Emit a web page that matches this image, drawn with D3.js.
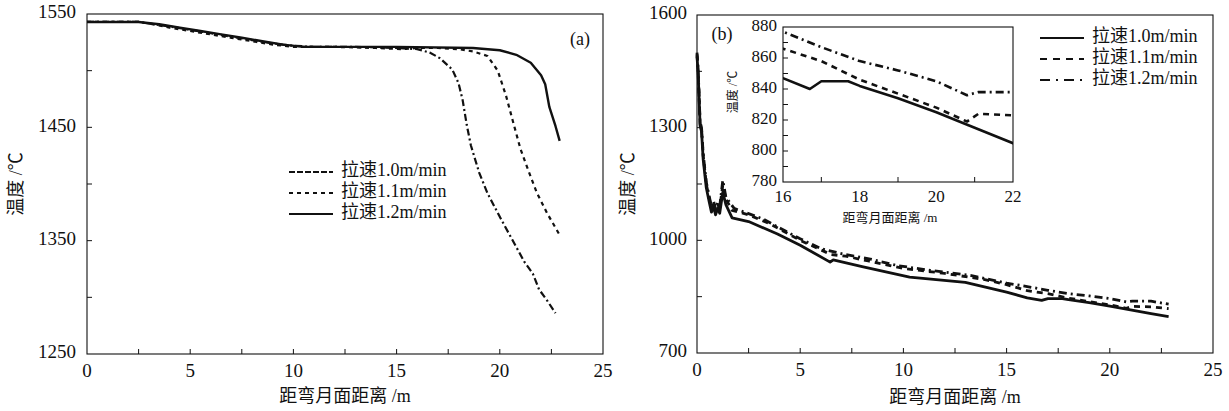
<!DOCTYPE html>
<html>
<head>
<meta charset="utf-8">
<script src="https://cdn.jsdelivr.net/npm/d3@7"></script>
<style>
  body { margin: 0; background: #fff; }
  text { fill: #111; }
</style>
</head>
<body>
<svg id="chart" width="1229" height="411"></svg>
<script>
// panel (a): distance [m], temperature [°C]
const seriesA10 = [[0,1543],[2.5,1543],[3.2,1541],[4,1539],[5,1536],[6,1533],[7,1530],[8,1527],[9,1524],[10,1522],[11,1521],[13,1521],[15,1520],[16,1519],[16.6,1516],[17.1,1511],[17.7,1501],[18.0,1489],[18.2,1474],[18.4,1452],[18.6,1434],[19.0,1410],[19.4,1392],[20.0,1371],[20.6,1351],[21.2,1331],[21.6,1321],[21.9,1307],[22.3,1297],[22.7,1286]];
const seriesA11 = [[0,1543],[2.5,1543],[3.2,1541],[4,1538],[5,1535],[6,1532],[7,1529],[8,1526],[9,1523],[10,1521],[12,1521],[14,1520],[15.3,1519],[16,1520],[17,1520],[18,1519],[18.7,1517],[19.4,1513],[19.9,1500],[20.3,1478],[20.7,1451],[21.0,1431],[21.4,1411],[21.8,1392],[22.3,1374],[22.9,1355]];
const seriesA12 = [[0,1543],[2.5,1543],[3.5,1541],[4.5,1538],[5.5,1535],[6.5,1532],[7.5,1529],[8.5,1526],[9.5,1523],[10.5,1521],[15,1521],[18.7,1520],[20,1518],[20.8,1514],[21.5,1507],[22.0,1496],[22.2,1488],[22.4,1468],[22.7,1451],[22.9,1438]];

// panel (b)
const seriesB10 = [[0,1490],[0.05,1450],[0.1,1380],[0.15,1305],[0.22,1290],[0.3,1215],[0.45,1140],[0.6,1100],[0.7,1075],[0.8,1090],[0.9,1068],[1.0,1085],[1.1,1072],[1.25,1128],[1.4,1095],[1.7,1060],[2.5,1050],[3.9,1017],[5.0,987],[6.45,942],[6.6,948],[8.0,930],[10.3,902],[13,888],[15,862],[16,847],[16.7,840],[17,845],[17.7,845],[18,842],[19,834],[20,825],[21,815],[22,805],[22.85,797]];
const seriesB11 = [[0,1495],[0.05,1455],[0.1,1385],[0.15,1310],[0.22,1295],[0.3,1225],[0.45,1150],[0.6,1110],[0.7,1085],[0.8,1100],[0.9,1078],[1.0,1095],[1.1,1085],[1.25,1148],[1.4,1110],[1.7,1080],[2.5,1068],[3.5,1045],[5,1000],[6.5,962],[7.2,958],[8.3,945],[10,925],[12,912],[14,895],[15,882],[16,866],[17,858],[18,846],[19,837],[20,828],[20.8,819],[21.1,824],[22,823],[22.85,818]];
const seriesB12 = [[0,1500],[0.05,1460],[0.1,1390],[0.15,1315],[0.22,1300],[0.3,1230],[0.45,1155],[0.6,1115],[0.7,1090],[0.8,1105],[0.9,1083],[1.0,1100],[1.1,1090],[1.25,1160],[1.4,1115],[1.8,1085],[3.2,1057],[4.1,1030],[5.0,1004],[6.0,978],[7.2,962],[8.4,950],[9.7,933],[11.3,920],[13.3,906],[15,886],[16,877],[17,867],[18,858],[19,852],[20,845],[20.8,836],[21.1,838],[22,838],[22.85,830]];

const legendLabels = ["拉速1.0m/min", "拉速1.1m/min", "拉速1.2m/min"];
const xTicksMain = [0, 5, 10, 15, 20, 25];
const yTicksA = [1250, 1350, 1450, 1550];
const yTicksB = [700, 1000, 1300, 1600];
const xTicksInset = [16, 18, 20, 22];
const yTicksInset = [780, 800, 820, 840, 860, 880];

const xTitle = "距弯月面距离 /m";
const yTitle = "温度 /℃";

const svg = d3.select("#chart");
const ink = "#111";
const serif = "'Times New Roman','Liberation Serif',Times,serif";
const mixed = "'Times New Roman','Liberation Serif','Noto Sans CJK SC',serif";

function drawFrame(g, x, y, opts) {
  const [x0, x1] = x.range();
  const [y0, y1] = y.range();
  g.append("rect")
    .attr("x", x0).attr("y", y1)
    .attr("width", x1 - x0).attr("height", y0 - y1)
    .attr("fill", "none").attr("stroke", ink).attr("stroke-width", 1.1);

  // inward ticks along bottom and left
  g.selectAll(null).data(opts.xMinor).join("line")
    .attr("x1", d => x(d)).attr("x2", d => x(d))
    .attr("y1", y0).attr("y2", y0 - 5)
    .attr("stroke", ink).attr("stroke-width", 1);
  g.selectAll(null).data(opts.yMinor).join("line")
    .attr("x1", x0).attr("x2", x0 + 5)
    .attr("y1", d => y(d)).attr("y2", d => y(d))
    .attr("stroke", ink).attr("stroke-width", 1);

  g.selectAll(null).data(opts.xTicks).join("text")
    .attr("x", d => x(d)).attr("y", y0 + opts.xLabelGap)
    .attr("text-anchor", "middle").attr("dominant-baseline", "middle")
    .attr("font-family", serif).attr("font-size", opts.fontSize)
    .text(d => d);
  g.selectAll(null).data(opts.yTicks).join("text")
    .attr("x", x0 - opts.yLabelGap).attr("y", d => y(d))
    .attr("text-anchor", "end").attr("dominant-baseline", "middle")
    .attr("font-family", serif).attr("font-size", opts.fontSize)
    .text(d => d);
}

function drawLines(g, x, y, list, clipId) {
  const line = d3.line().x(d => x(d[0])).y(d => y(d[1]));
  const holder = g.append("g");
  if (clipId) holder.attr("clip-path", `url(#${clipId})`);
  list.forEach(s => {
    holder.append("path")
      .datum(s.data)
      .attr("d", line)
      .attr("fill", "none")
      .attr("stroke", ink)
      .attr("stroke-width", s.width)
      .attr("stroke-dasharray", s.dash)
      .attr("stroke-linejoin", "round");
  });
}

function drawLegend(g, x, y, list) {
  list.forEach((s, i) => {
    const cy = y + i * 21;
    g.append("line")
      .attr("x1", x).attr("x2", x + 44)
      .attr("y1", cy).attr("y2", cy)
      .attr("stroke", ink).attr("stroke-width", 2.2)
      .attr("stroke-dasharray", s.legendDash);
    g.append("text")
      .attr("x", x + 52).attr("y", cy)
      .attr("dominant-baseline", "middle")
      .attr("font-family", mixed).attr("font-size", 18)
      .text(s.label);
  });
}

function axisTitles(g, x, y, size, xGap, yGapX) {
  const [x0, x1] = x.range();
  const [y0, y1] = y.range();
  g.append("text")
    .attr("x", (x0 + x1) / 2).attr("y", y0 + xGap)
    .attr("text-anchor", "middle").attr("dominant-baseline", "middle")
    .attr("font-family", mixed).attr("font-size", size)
    .text(xTitle);
  g.append("text")
    .attr("transform", `translate(${yGapX},${(y0 + y1) / 2}) rotate(-90)`)
    .attr("text-anchor", "middle").attr("dominant-baseline", "middle")
    .attr("font-family", mixed).attr("font-size", size)
    .text(yTitle);
}

const range = (a, b, step) => d3.range(a, b + step / 2, step);

// ---- panel (a)
const xA = d3.scaleLinear().domain([0, 25]).range([87, 603]);
const yA = d3.scaleLinear().domain([1250, 1550]).range([354, 14]);
const gA = svg.append("g");
drawFrame(gA, xA, yA, {
  xTicks: xTicksMain, yTicks: yTicksA,
  xMinor: range(2.5, 22.5, 2.5), yMinor: range(1300, 1500, 50),
  fontSize: 19, xLabelGap: 19, yLabelGap: 11
});
const linesA = [
  { data: seriesA10, width: 2.2, dash: "7,3,2,3", legendDash: "6,2,6,2", label: legendLabels[0] },
  { data: seriesA11, width: 2.2, dash: "4,4", legendDash: "4,4", label: legendLabels[1] },
  { data: seriesA12, width: 2.4, dash: null, legendDash: null, label: legendLabels[2] }
];
drawLines(gA, xA, yA, linesA);
drawLegend(gA, 289, 172, linesA);
gA.append("text").attr("x", 580).attr("y", 41)
  .attr("text-anchor", "middle").attr("dominant-baseline", "middle")
  .attr("font-family", serif).attr("font-size", 18).text("(a)");
axisTitles(gA, xA, yA, 18, 44, 18);

// ---- panel (b)
const xB = d3.scaleLinear().domain([0, 25]).range([697, 1213]);
const yB = d3.scaleLinear().domain([700, 1600]).range([353, 15]);
const gB = svg.append("g");
drawFrame(gB, xB, yB, {
  xTicks: xTicksMain, yTicks: yTicksB,
  xMinor: range(2.5, 22.5, 2.5), yMinor: range(850, 1450, 150),
  fontSize: 19, xLabelGap: 19, yLabelGap: 10
});
const linesB = [
  { data: seriesB10, width: 2.8, dash: null, legendDash: null, label: legendLabels[0] },
  { data: seriesB11, width: 2.8, dash: "6,5", legendDash: "7,6", label: legendLabels[1] },
  { data: seriesB12, width: 2.8, dash: "8,4,2,4", legendDash: "10,6,2,6", label: legendLabels[2] }
];
drawLines(gB, xB, yB, linesB);
drawLegend(gB, 1040, 38, linesB);
gB.append("text").attr("x", 722).attr("y", 36)
  .attr("text-anchor", "middle").attr("dominant-baseline", "middle")
  .attr("font-family", serif).attr("font-size", 18).text("(b)");
axisTitles(gB, xB, yB, 18, 46, 630);

// ---- inset in (b)
const xI = d3.scaleLinear().domain([16, 22]).range([783, 1013]);
const yI = d3.scaleLinear().domain([780, 880]).range([182, 27]);
const gI = svg.append("g");
gI.append("rect").attr("x", 783).attr("y", 27).attr("width", 230).attr("height", 155).attr("fill", "#fff");
svg.append("clipPath").attr("id", "insetClip")
  .append("rect").attr("x", 783).attr("y", 27).attr("width", 230).attr("height", 155);
const linesI = linesB.map(s => ({ ...s, width: 2.6 }));
drawLines(gI, xI, yI, linesI, "insetClip");
drawFrame(gI, xI, yI, {
  xTicks: xTicksInset, yTicks: yTicksInset,
  xMinor: [17, 19, 21], yMinor: range(790, 870, 10),
  fontSize: 17, xLabelGap: 16, yLabelGap: 6
});
gI.append("text")
  .attr("x", 890).attr("y", 219)
  .attr("text-anchor", "middle").attr("dominant-baseline", "middle")
  .attr("font-family", mixed).attr("font-size", 13)
  .text(xTitle);
gI.append("text")
  .attr("transform", "translate(734,92) rotate(-90)")
  .attr("text-anchor", "middle").attr("dominant-baseline", "middle")
  .attr("font-family", mixed).attr("font-size", 12)
  .text(yTitle);
</script>
</body>
</html>
